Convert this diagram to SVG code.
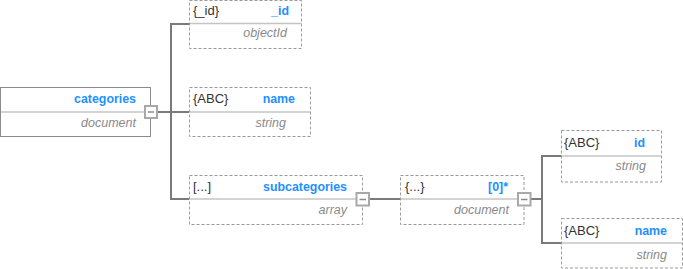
<svg xmlns="http://www.w3.org/2000/svg" width="683" height="269" viewBox="0 0 683 269">
  <style>
    .box { fill: #ffffff; stroke: #9a9a9a; stroke-width: 1; stroke-dasharray: 3 2; }
    .box-solid { fill: #ffffff; stroke: #8c8c8c; stroke-width: 1; }
    .div { stroke: #c4c4c4; stroke-width: 1.5; }
    .wire { fill: none; stroke: #7a7a7a; stroke-width: 2; }
    .btn { fill: #ffffff; stroke: #a8a8a8; stroke-width: 2; }
    .btn-dash { stroke: #8a8a8a; stroke-width: 1.5; }
    text { font-family: "Liberation Sans", Arial, sans-serif; font-size: 12.5px; }
    .kind { fill: #333333; font-size: 13px; }
    .name { fill: #1e90ff; font-weight: bold; text-anchor: end; font-size: 12.4px; }
    .type { fill: #8a8a8a; font-style: italic; text-anchor: end; }
  </style>

  <!-- connectors -->
  <g id="connectors">
    <path class="wire" d="M157 112 H171"/>
    <path class="wire" d="M189 24 H171 V199 H189"/>
    <path class="wire" d="M171 112 H189"/>
    <path class="wire" d="M369 199 H400"/>
    <path class="wire" d="M530.5 199 H542"/>
    <path class="wire" d="M562 156 H542 V243 H562"/>
  </g>

  <!-- root document -->
  <g id="categories">
    <rect class="box-solid" x="0.5" y="87.5" width="150" height="49"/>
    <line class="div" x1="1" y1="112" x2="150" y2="112"/>
    <text class="name" x="136" y="103">categories</text>
    <text class="type" x="136" y="127">document</text>
    <rect class="btn" x="145" y="106" width="12" height="12"/>
    <line class="btn-dash" x1="148" y1="112" x2="154" y2="112"/>
  </g>

  <g id="field-id">
    <rect class="box" x="189.5" y="0.5" width="112" height="48"/>
    <line class="div" x1="190" y1="23.5" x2="301" y2="23.5"/>
    <text class="kind" x="193" y="15">{_id}</text>
    <text class="name" x="289" y="15">_id</text>
    <text class="type" x="287" y="37">objectId</text>
  </g>

  <g id="field-name">
    <rect class="box" x="189.5" y="87.5" width="121" height="49"/>
    <line class="div" x1="190" y1="112" x2="310" y2="112"/>
    <text class="kind" x="193" y="103">{ABC}</text>
    <text class="name" x="295" y="103">name</text>
    <text class="type" x="286" y="127">string</text>
  </g>

  <g id="field-subcategories">
    <rect class="box" x="189.5" y="175.5" width="173" height="49"/>
    <line class="div" x1="190" y1="199" x2="362" y2="199"/>
    <text class="kind" x="193" y="191">[...]</text>
    <text class="name" x="347" y="191">subcategories</text>
    <text class="type" x="347" y="214">array</text>
    <rect class="btn" x="356.5" y="193" width="12.5" height="12.5"/>
    <line class="btn-dash" x1="359.5" y1="199.5" x2="366" y2="199.5"/>
  </g>

  <g id="subcategory-item">
    <rect class="box" x="400.5" y="175.5" width="123.5" height="49"/>
    <line class="div" x1="401" y1="199" x2="524" y2="199"/>
    <text class="kind" x="405" y="191">{...}</text>
    <text class="name" x="508" y="191">[0]*</text>
    <text class="type" x="509" y="214">document</text>
    <rect class="btn" x="518" y="193" width="12.5" height="12.5"/>
    <line class="btn-dash" x1="521" y1="199.5" x2="527.5" y2="199.5"/>
  </g>

  <g id="item-id">
    <rect class="box" x="561.5" y="130.5" width="100" height="51.5"/>
    <line class="div" x1="562" y1="156" x2="661" y2="156"/>
    <text class="kind" x="564" y="147">{ABC}</text>
    <text class="name" x="645" y="147">id</text>
    <text class="type" x="646" y="170">string</text>
  </g>

  <g id="item-name">
    <rect class="box" x="561.5" y="218.5" width="121" height="49.5"/>
    <line class="div" x1="562" y1="243" x2="682" y2="243"/>
    <text class="kind" x="564" y="235">{ABC}</text>
    <text class="name" x="667" y="235">name</text>
    <text class="type" x="667" y="259">string</text>
  </g>
</svg>
